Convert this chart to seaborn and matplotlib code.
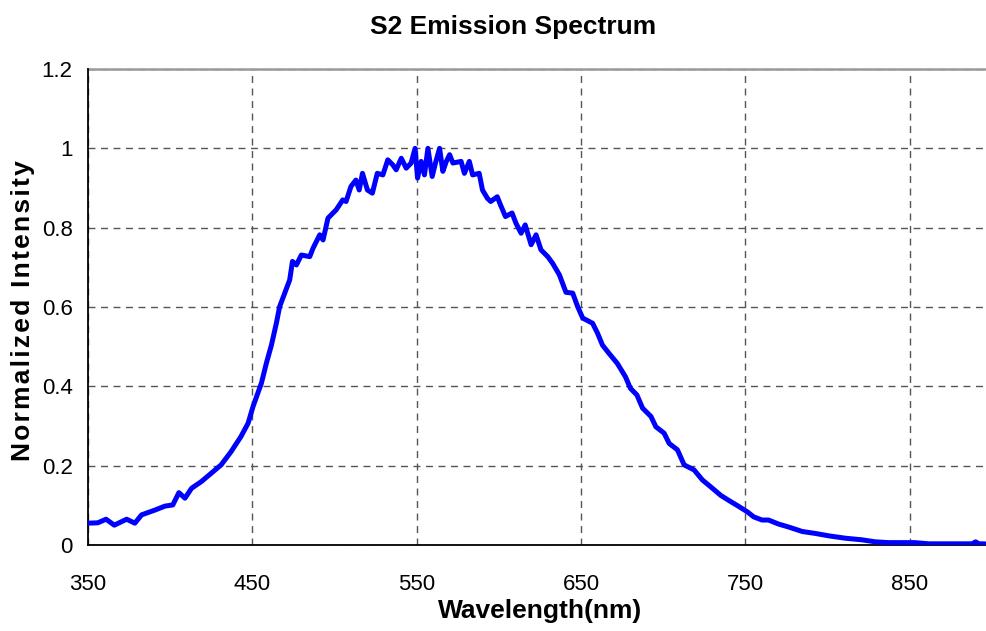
import numpy as np
import pandas as pd
import seaborn as sns
import matplotlib.pyplot as plt

# Emission spectrum
wavelength = [350, 356, 361, 366, 373.5, 378.5, 382.6, 390.7, 396.8, 401.6,
              405.3, 409, 413, 419, 425, 431, 437, 443, 447.4, 450.4,
              455.5, 458.5, 461.6, 464.6, 466.6, 469.7, 472.7, 474.4, 476.8, 479.8,
              484.9, 486.9, 491, 493, 496, 501, 505, 507, 510, 513,
              515, 517, 520, 523, 526, 529.4, 532.4, 535.5, 537.5, 540.6,
              543.6, 546.6, 549, 550.5, 552.7, 554.7, 556.8, 559.4, 561.4, 563.9,
              565.9, 568, 570, 572, 577, 579, 582, 584, 588, 590,
              593, 595, 599, 601, 604, 608, 610.4, 613.5, 616, 619.6,
              622.6, 625.6, 629.7, 632.7, 636.8, 640.8, 644.9, 647.9, 651, 657,
              660, 663, 667, 672, 677, 680, 684, 687.4, 692.5, 695.5,
              700.5, 703.6, 708.6, 712.7, 718.8, 723.8, 729.9, 735, 740, 746,
              751, 755, 760, 764, 770, 776.5, 784.6, 792.7, 800.8, 811,
              821, 829, 837, 853, 861.5, 881.8, 888, 890, 892, 895.6]
intensity = [0.055, 0.056, 0.065, 0.050, 0.065, 0.055, 0.076, 0.088, 0.098, 0.101,
             0.132, 0.118, 0.143, 0.160, 0.181, 0.202, 0.235, 0.273, 0.307, 0.349,
             0.408, 0.458, 0.504, 0.559, 0.601, 0.635, 0.668, 0.715, 0.706, 0.731,
             0.727, 0.748, 0.782, 0.769, 0.824, 0.845, 0.870, 0.866, 0.904, 0.920,
             0.895, 0.937, 0.895, 0.887, 0.937, 0.933, 0.971, 0.958, 0.946, 0.975,
             0.950, 0.963, 1.000, 0.925, 0.967, 0.933, 1.000, 0.929, 0.963, 1.000,
             0.942, 0.967, 0.984, 0.963, 0.967, 0.937, 0.967, 0.933, 0.937, 0.895,
             0.874, 0.866, 0.878, 0.857, 0.828, 0.837, 0.811, 0.786, 0.807, 0.757,
             0.782, 0.744, 0.727, 0.710, 0.681, 0.637, 0.635, 0.601, 0.572, 0.559,
             0.534, 0.504, 0.483, 0.458, 0.424, 0.395, 0.378, 0.345, 0.324, 0.298,
             0.282, 0.256, 0.240, 0.202, 0.189, 0.164, 0.143, 0.125, 0.112, 0.097,
             0.084, 0.071, 0.063, 0.063, 0.053, 0.045, 0.034, 0.029, 0.023, 0.017,
             0.013, 0.008, 0.006, 0.006, 0.003, 0.003, 0.003, 0.008, 0.003, 0.003]

x_ticks = [350, 450, 550, 650, 750, 850]
y_ticks = [0, 0.2, 0.4, 0.6, 0.8, 1.0, 1.2]
y_tick_labels = ['0', '0.2', '0.4', '0.6', '0.8', '1', '1.2']

df = pd.DataFrame({'wavelength': wavelength, 'intensity': intensity})

sns.set_style('white')
plt.rcParams['font.family'] = ['Liberation Sans', 'DejaVu Sans']
plt.rcParams['text.color'] = 'black'

fig = plt.figure(figsize=(9.86, 6.31), dpi=100)
ax = fig.add_axes([88 / 986, 86 / 631, 904 / 986, 476 / 631])

sns.lineplot(data=df, x='wavelength', y='intensity', color='#0000FF',
             linewidth=3.6, sort=False, estimator=None, ax=ax, zorder=5)

ax.set_xlim(350, 900)
ax.set_ylim(0, 1.2)
ax.set_xticks(x_ticks)
ax.set_yticks(y_ticks)
ax.set_yticklabels(y_tick_labels)

# dashed grid like the spreadsheet chart
ax.grid(True, which='major', linestyle=(0, (5, 4)), color='#555555', linewidth=1.0)
ax.tick_params(axis='both', direction='out', length=6, width=1.2, color='black',
               labelsize=16, labelcolor='black')
ax.tick_params(axis='x', pad=15)
ax.tick_params(axis='y', pad=5)

for side in ['left', 'bottom']:
    ax.spines[side].set_color('black')
    ax.spines[side].set_linewidth(1.3)
    ax.spines[side].set_zorder(4)
ax.spines['top'].set_color('#999999')
ax.spines['top'].set_linewidth(1.8)
ax.spines['right'].set_visible(False)

ax.set_xlabel('')
ax.set_ylabel('')

fig.text(513 / 986, 1 - 27 / 631, 'S2 Emission Spectrum', ha='center', va='center',
         fontsize=19, fontweight='bold', color='black')
fig.text(540 / 986, 1 - 611 / 631, 'Wavelength(nm)', ha='center', va='center',
         fontsize=19, fontweight='bold', color='black')
ylab = '\u200a'.join('Normalized Intensity')
fig.text(23 / 986, 1 - 311 / 631, ylab, ha='center', va='center', rotation=90,
         fontsize=19, fontweight='bold', color='black')

fig.savefig('out.png', dpi=100)
